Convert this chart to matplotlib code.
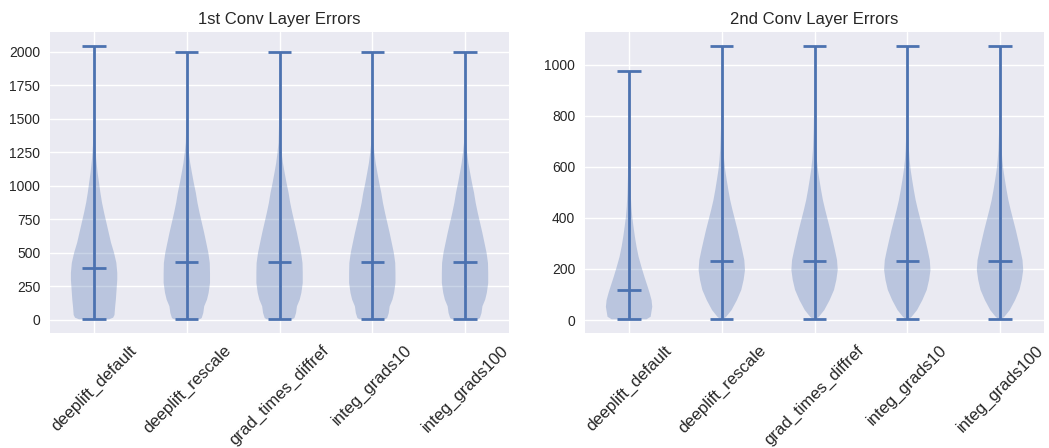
import numpy as np
import matplotlib
matplotlib.use('Agg')
import matplotlib.pyplot as plt

plt.style.use('seaborn-v0_8')
plt.rcParams['font.family'] = ['Liberation Sans', 'DejaVu Sans']

methods = ['deeplift_default', 'deeplift_rescale', 'grad_times_diffref',
           'integ_grads10', 'integ_grads100']

# 1st conv layer: min / median / max per method
conv1_min = [3, 3, 3, 3, 3]
conv1_median = [386, 428, 428, 428, 428]
conv1_max = [2045, 2000, 2000, 2000, 2000]

# density shape (relative widths)
conv1_default_y = [3, 15, 35, 100, 150, 225, 300, 350, 425, 500, 575, 650, 725,
                   800, 875, 950, 1025, 1100, 1200, 1300, 1500, 1750, 2045]
conv1_default_d = [0.65, 0.82, 0.88, 0.91, 0.94, 0.97, 1.0, 1.0, 0.96, 0.86, 0.73,
                   0.63, 0.53, 0.43, 0.34, 0.27, 0.21, 0.15, 0.09, 0.05, 0.015,
                   0.004, 0.0]
conv1_other_y = [3, 12, 50, 100, 150, 200, 274, 349, 423, 498, 573, 647, 722, 797,
                 872, 946, 1021, 1096, 1170, 1245, 1320, 1500, 1750, 2000]
conv1_other_d = [0.55, 0.64, 0.71, 0.75, 0.87, 0.94, 1.0, 1.0, 0.99, 0.93, 0.84,
                 0.75, 0.65, 0.55, 0.46, 0.39, 0.3, 0.22, 0.145, 0.09, 0.045,
                 0.015, 0.004, 0.0]

# 2nd conv layer
conv2_min = [3, 3, 3, 3, 3]
conv2_median = [116, 230, 230, 230, 230]
conv2_max = [975, 1074, 1074, 1074, 1074]

conv2_default_y = [3, 13, 52, 78, 105, 131, 170, 209, 248, 288, 327, 366, 405, 444,
                   497, 600, 750, 975]
conv2_default_d = [0.75, 0.93, 1.0, 0.97, 0.89, 0.8, 0.66, 0.53, 0.41, 0.32, 0.25,
                   0.19, 0.135, 0.1, 0.07, 0.035, 0.012, 0.0]
conv2_other_y = [3, 13, 39, 78, 118, 157, 196, 235, 274, 314, 353, 392, 431, 470,
                 510, 549, 588, 627, 667, 750, 850, 950, 1074]
conv2_other_d = [0.05, 0.19, 0.42, 0.65, 0.84, 0.94, 1.0, 0.97, 0.88, 0.78, 0.68,
                 0.57, 0.46, 0.36, 0.28, 0.21, 0.145, 0.1, 0.07, 0.036, 0.015,
                 0.005, 0.0]

conv1_shapes = [(conv1_default_y, conv1_default_d)] + [(conv1_other_y, conv1_other_d)] * 4
conv2_shapes = [(conv2_default_y, conv2_default_d)] + [(conv2_other_y, conv2_other_d)] * 4


def make_stats(shapes, mins, medians, maxs):
    stats = []
    for (ys, ds), lo, med, hi in zip(shapes, mins, medians, maxs):
        stats.append({'coords': np.array(ys, dtype=float),
                      'vals': np.array(ds, dtype=float),
                      'mean': med, 'median': med, 'min': lo, 'max': hi})
    return stats


fig = plt.figure(figsize=(10.49, 4.48), dpi=100)
ax1 = fig.add_axes([0.0477, 0.2567, 0.4376, 0.672])
ax2 = fig.add_axes([0.5577, 0.2567, 0.4376, 0.672])

color = '#4C72B0'
panels = [
    (ax1, make_stats(conv1_shapes, conv1_min, conv1_median, conv1_max), '1st Conv Layer Errors'),
    (ax2, make_stats(conv2_shapes, conv2_min, conv2_median, conv2_max), '2nd Conv Layer Errors'),
]
for ax, stats, title in panels:
    parts = ax.violin(stats, positions=range(1, len(methods) + 1), widths=0.5,
                      showmeans=False, showextrema=True, showmedians=True)
    for body in parts['bodies']:
        body.set_facecolor(color)
        body.set_edgecolor('none')
        body.set_alpha(0.3)
    for key in ['cmins', 'cmaxes', 'cbars', 'cmedians']:
        parts[key].set_color(color)
        parts[key].set_linewidth(2)
    ax.set_xticks(range(1, len(methods) + 1))
    ax.set_xticklabels(methods, rotation=45, fontsize=12)
    ax.set_title(title)

fig.savefig('out.png', dpi=100)
